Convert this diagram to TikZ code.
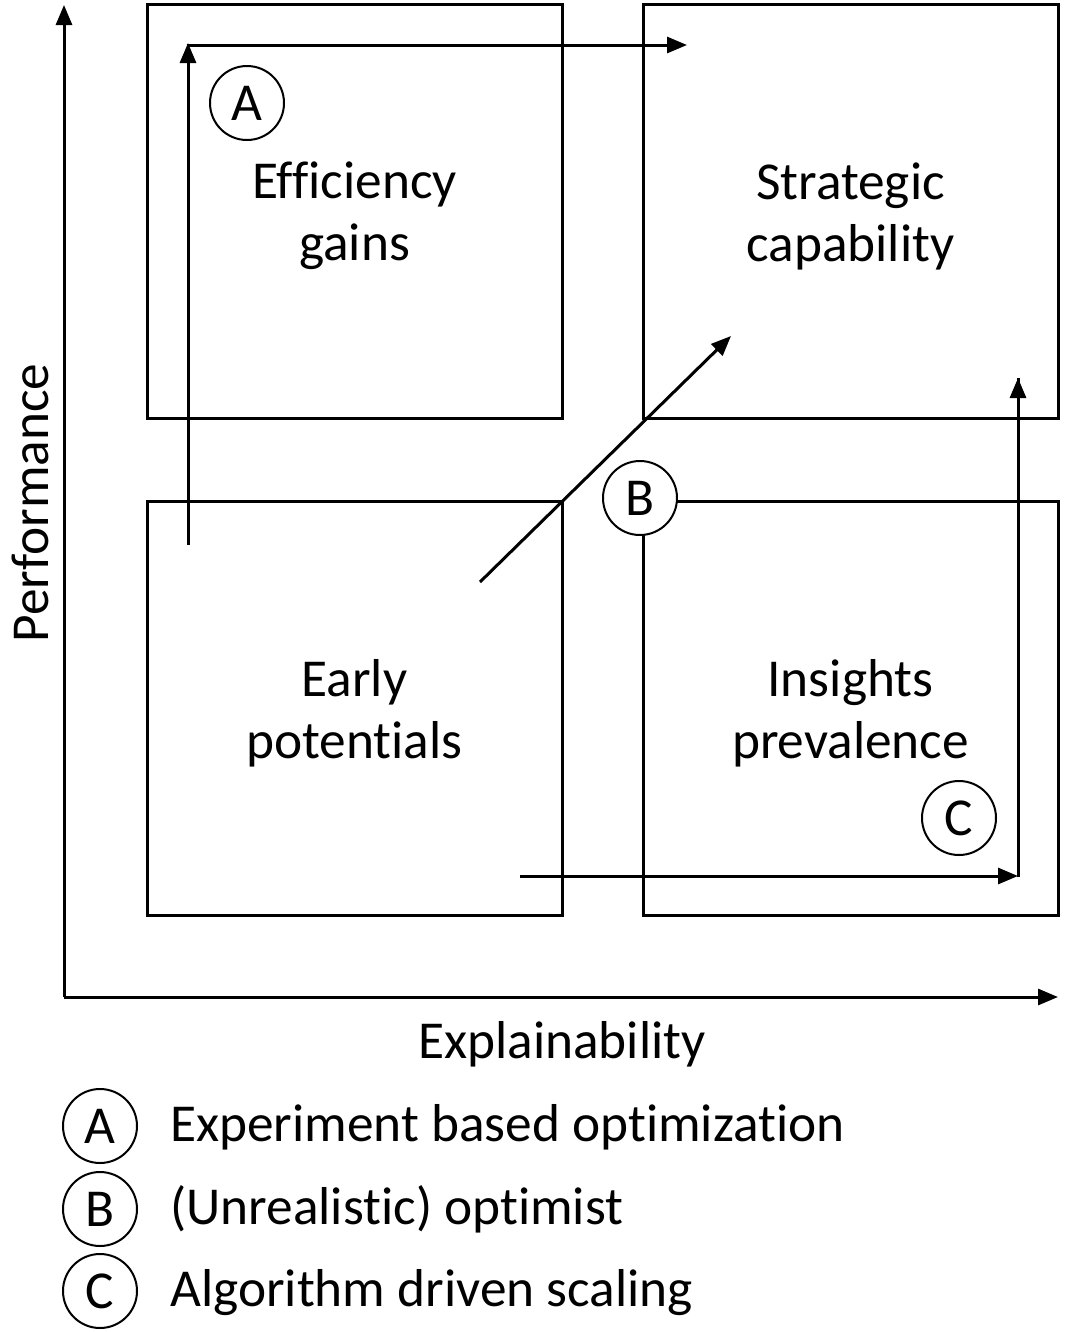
\documentclass[tikz,border=0pt]{standalone}
\usepackage{fontspec}
\setmainfont[Ligatures=NoCommon]{Carlito}
\usetikzlibrary{arrows.meta}
\begin{document}
\begin{tikzpicture}[x=0.75pt,y=-0.75pt,
  font=\fontsize{40}{46.5}\selectfont,
  quad/.style={draw, line width=2.25pt, minimum width=311.25pt, minimum height=310pt, inner sep=0pt},
  quadtext/.style={align=center, inner sep=0pt},
  tag/.style={circle, draw, fill=white, line width=1.5pt, minimum size=55.5pt, inner sep=0pt},
  conn/.style={line width=2.25pt, -{Triangle[length=15pt,width=12pt]}},
  axis/.style={line width=2.25pt, -{Triangle[length=15pt,width=12pt]}},
  legendtext/.style={anchor=base west, inner sep=0pt}]
\useasboundingbox (0,0) rectangle (1065,1332);
% axes
\coordinate (O) at (64,997);
\coordinate (Ytop) at (64,5);
\coordinate (Xend) at (1058,997);
\draw[axis] (O) -- (Ytop);
\draw[axis] (O) -- (Xend);
\node[rotate=90] (perf) at (30,503) {Performance};
\node[anchor=base, inner sep=0pt] (expl) at (562,1058) {Explainability};
% quadrants
\node[quad] (eff) at (354.5,211.5) {};
\node[quad] (strat) at (850.5,211.5) {};
\node[quad] (early) at (354.5,708.5) {};
\node[quad] (ins) at (850.5,708.5) {};
\node[quadtext] (effT) at (354.5,216) {Efficiency\\gains};
\node[quadtext] (stratT) at (850.5,216) {Strategic\\capability};
\node[quadtext] (earlyT) at (354.5,713) {Early\\potentials};
\node[quadtext] (insT) at (850.5,713) {Insights\\prevalence};
% arrow A
\coordinate (a0) at (188,545);
\coordinate (a1) at (188,45);
\coordinate (a2) at (687,45);
\draw[conn] (a0) -- ([yshift=1.5pt]a1);
\draw[line width=2.25pt] ([xshift=-1.1pt]a1) -- ([xshift=2pt]a1);
\draw[conn] ([xshift=-1.1pt]a1) -- (a2);
% arrow B
\coordinate (b0) at (480,582);
\coordinate (b1) at (731,336);
\draw[conn] (b0) -- (b1);
% arrow C
\coordinate (c0) at (520,876);
\coordinate (c1) at (1018,876);
\coordinate (c2) at (1018,378);
\draw[conn] (c0) -- (c1);
\draw[line width=2.25pt] ([yshift=-1.1pt]c1) -- ([yshift=1.1pt]c1) -- (c2);
\draw[conn] ([yshift=1.1pt]c1) -- (c2);
% tags
\node[tag] (tA) at (247,103) {A};
\node[tag] (tB) at (640,498) {B};
\node[tag] (tC) at (959,818) {C};
% legend
\node[tag] (lA) at (100,1126) {A};
\node[tag] (lB) at (100,1209) {B};
\node[tag] (lC) at (100,1291) {C};
\node[legendtext] (lAt) at (170,1141) {Experiment based optimization};
\node[legendtext] (lBt) at (170,1224) {(Unrealistic) optimist};
\node[legendtext] (lCt) at (170,1306) {Algorithm driven scaling};
\end{tikzpicture}
\end{document}
